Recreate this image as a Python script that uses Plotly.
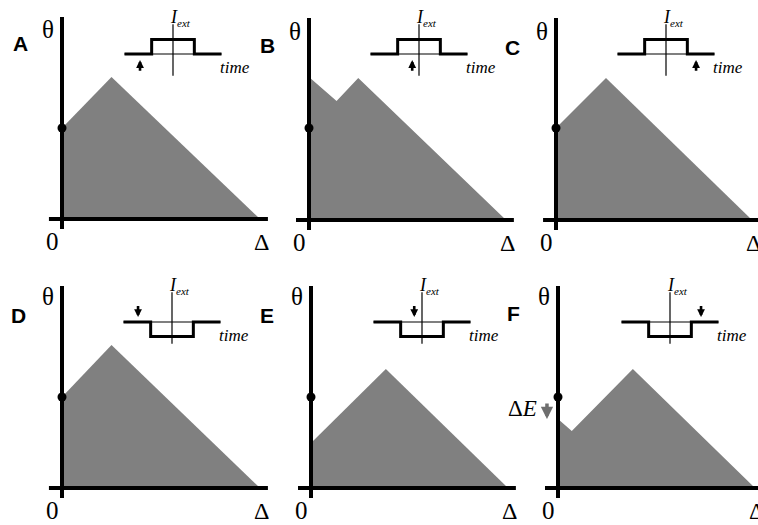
import plotly.graph_objects as go

W, H = 758, 525

# ---------------- data ----------------
panel_letters = ["A", "B", "C", "D", "E", "F"]

# threshold profile theta(Delta): x in units of Delta, y in theta units
profile_x = [
    [0.0, 0.25, 1.0],
    [0.0, 0.14, 0.25, 1.0],
    [0.0, 0.255, 1.0],
    [0.0, 0.25, 1.0],
    [0.0, 0.38, 1.0],
    [0.0, 0.07, 0.38, 1.0],
]
profile_y = [
    [0.91, 1.42, 0.0],
    [1.43, 1.19, 1.42, 0.0],
    [0.92, 1.42, 0.0],
    [0.91, 1.43, 0.0],
    [0.45, 1.19, 0.0],
    [0.69, 0.57, 1.19, 0.0],
]
rest_theta = [0.91, 0.92, 0.92, 0.91, 0.91, 0.91]

# inset current pulse
pulse_t = [-5, -2.2, -2.2, 2.2, 2.2, 5]
pulse_level = [0, 0, 1, 1, 0, 0]
pulse_sign = [1, 1, 1, -1, -1, -1]
arrow_t = [-3.4, -0.7, 3.1, -3.5, -0.8, 3.2]

# Delta E arrow in panel F (theta units)
dE_from, dE_to = 0.86, 0.69

# ---------------- layout geometry ----------------
PANELS = [(62, 219, 198), (309, 220, 197), (556, 220, 196),
          (62, 488, 198), (311, 488, 197), (558, 488, 197)]
THETA_LABEL_Y = [1.89, 1.89, 1.89, 1.92, 1.92, 1.92]
SY = 100.0
INSETS = [(173, 54), (419, 54), (666, 54), (172, 322), (422, 322), (670, 322)]
ISX, ISY = 9.7, 14.5

GREY = "rgb(128,128,128)"
SERIF = "Liberation Serif"
SANS = "Liberation Sans"

fig = go.Figure()
layout_axes = {}


def ref(n):
    return "" if n == 1 else str(n)


def make_axes(n, ox, oy, sx, sy, left, right, top, bottom):
    left = max(0, left); right = min(W, right)
    top = max(0, top); bottom = min(H, bottom)
    layout_axes["xaxis" + ref(n)] = dict(
        domain=[left / W, right / W],
        range=[(left - ox) / sx, (right - ox) / sx],
        visible=False, fixedrange=True, anchor="y" + ref(n))
    layout_axes["yaxis" + ref(n)] = dict(
        domain=[1 - bottom / H, 1 - top / H],
        range=[(oy - bottom) / sy, (oy - top) / sy],
        visible=False, fixedrange=True, anchor="x" + ref(n))


annotations = []

for i in range(6):
    n = i + 1
    ox, oy, sx = PANELS[i]
    make_axes(n, ox, oy, sx, SY, ox - 45, ox + 215, oy - 210, oy + 30)
    xa, ya = "x" + ref(n), "y" + ref(n)

    px = profile_x[i] + [0.0]
    py = profile_y[i] + [0.0]
    fig.add_trace(go.Scatter(x=px, y=py, xaxis=xa, yaxis=ya, mode="lines",
                             fill="toself", fillcolor=GREY,
                             line=dict(width=0, color=GREY), hoverinfo="skip"))
    # axes
    fig.add_trace(go.Scatter(x=[-0.066, 1.04], y=[0, 0], xaxis=xa, yaxis=ya,
                             mode="lines", line=dict(color="black", width=4),
                             hoverinfo="skip"))
    fig.add_trace(go.Scatter(x=[0, 0], y=[-0.1, 2.02], xaxis=xa, yaxis=ya,
                             mode="lines", line=dict(color="black", width=4),
                             hoverinfo="skip"))
    fig.add_trace(go.Scatter(x=[0], y=[rest_theta[i]], xaxis=xa, yaxis=ya,
                             mode="markers", marker=dict(color="black", size=9),
                             cliponaxis=False, hoverinfo="skip"))

    annotations += [
        dict(text="θ", x=0, y=THETA_LABEL_Y[i], xref=xa, yref=ya, xshift=-14,
             showarrow=False, xanchor="center", yanchor="middle",
             font=dict(family=SERIF, size=25, color="black")),
        dict(text="0", x=0, y=-0.22, xref=xa, yref=ya, xshift=-10, showarrow=False,
             xanchor="center", yanchor="middle",
             font=dict(family=SERIF, size=25, color="black")),
        dict(text="Δ", x=1.01, y=-0.23, xref=xa, yref=ya, showarrow=False,
             xanchor="center", yanchor="middle",
             font=dict(family=SERIF, size=24, color="black")),
    ]

    # inset
    m = i + 7
    cx, cy = INSETS[i]
    make_axes(m, cx, cy, ISX, ISY, cx - 62, cx + 62, cy - 46, cy + 36)
    xi, yi = "x" + ref(m), "y" + ref(m)
    fig.add_trace(go.Scatter(x=[pulse_t[0], pulse_t[-1]], y=[0, 0], xaxis=xi, yaxis=yi,
                             mode="lines", line=dict(color="black", width=1.2),
                             hoverinfo="skip"))
    fig.add_trace(go.Scatter(x=[0, 0], y=[-1.5, 2.05], xaxis=xi, yaxis=yi,
                             mode="lines", line=dict(color="black", width=1.2),
                             hoverinfo="skip"))
    fig.add_trace(go.Scatter(x=pulse_t, y=[pulse_sign[i] * v for v in pulse_level],
                             xaxis=xi, yaxis=yi, mode="lines",
                             line=dict(color="black", width=3), hoverinfo="skip"))
    if pulse_sign[i] > 0:
        tip, tail = -0.42, -1.25
    else:
        tip, tail = 0.35, 1.2
    annotations += [
        dict(text="", x=arrow_t[i], y=tip, ax=arrow_t[i], ay=tail,
             xref=xi, yref=yi, axref=xi, ayref=yi, showarrow=True,
             arrowhead=2, arrowsize=0.6, arrowwidth=2.6, arrowcolor="black"),
        dict(text="<i>I</i>", x=0, y=2.55, xref=xi, yref=yi, xshift=0.5, showarrow=False,
             xanchor="center", yanchor="middle",
             font=dict(family=SERIF, size=18, color="black")),
        dict(text="<i>ext</i>", x=0, y=2.15, xref=xi, yref=yi, xshift=2, xanchor="left",
             yanchor="middle",
             showarrow=False, font=dict(family=SERIF, size=11, color="black")),
        dict(text="<i>time</i>", x=4.6, y=-0.9, xref=xi, yref=yi, xanchor="left",
             yanchor="middle",
             showarrow=False, font=dict(family=SERIF, size=17, color="black")),
    ]

# panel letters
LETTER_POS = [(20, 44), (267, 46), (512, 47), (18, 315), (267, 315), (513, 313)]
for (lx, ly), L in zip(LETTER_POS, panel_letters):
    annotations.append(dict(text="<b>%s</b>" % L, x=lx / W, y=1 - ly / H,
                            xref="paper", yref="paper", showarrow=False,
                            xanchor="center", yanchor="middle",
                            font=dict(family=SANS, size=21, color="black")))

# Delta E in panel F
annotations += [
    dict(text="Δ<i>E</i>", x=0, y=0.8, xref="x6", yref="y6", xanchor="right",
         yanchor="middle",
         xshift=-19, showarrow=False, font=dict(family=SERIF, size=23, color="black")),
    dict(text="", x=-0.056, y=dE_to, ax=-0.056, ay=dE_from, xref="x6", yref="y6",
         axref="x6", ayref="y6", showarrow=True, arrowhead=2, arrowsize=0.7,
         arrowwidth=3.5, arrowcolor="rgb(110,110,110)"),
]

fig.update_layout(width=W, height=H, margin=dict(l=0, r=0, t=0, b=0),
                  paper_bgcolor="white", plot_bgcolor="rgba(0,0,0,0)",
                  showlegend=False, annotations=annotations, **layout_axes)

fig.write_html("out.html", config={"displayModeBar": False},
               post_script="document.body.style.margin='0px';document.body.style.padding='0px';")
